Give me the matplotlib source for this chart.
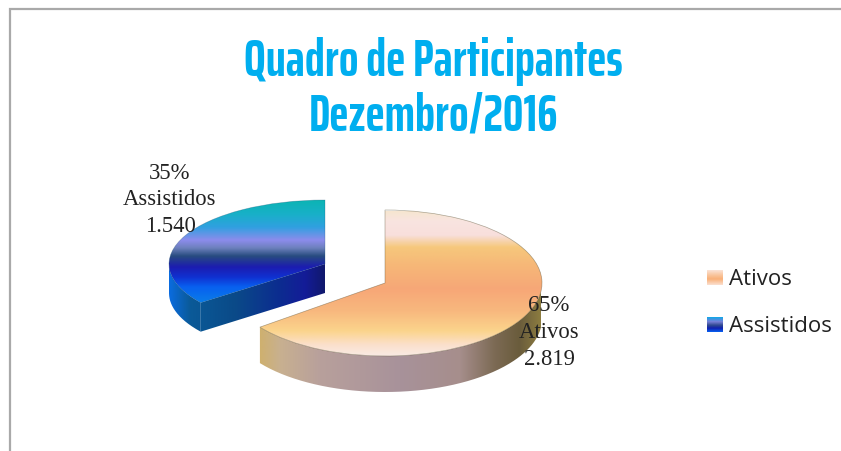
import numpy as np
import matplotlib
matplotlib.use("Agg")
import matplotlib.pyplot as plt
from matplotlib.colors import LinearSegmentedColormap
from matplotlib.path import Path
from matplotlib.transforms import Affine2D
from matplotlib import font_manager as fm

categories = ["Ativos", "Assistidos"]
values = [2819, 1540]
percent_labels = ["65%", "35%"]
value_labels = ["2.819", "1.540"]
title_lines = ["Quadro de Participantes", "Dezembro/2016"]

W, H = 841, 452
fig = plt.figure(figsize=(W / 100, H / 100), dpi=100, facecolor="white")
ax = fig.add_axes([0, 0, 1, 1])

wedges, _ = ax.pie(values, startangle=90, counterclock=False, radius=1, frame=False)
ax.set_aspect("auto")
ax.set_xlim(0, W)
ax.set_ylim(H, 0)
ax.axis("off")

geom = {
    "Ativos": dict(cx=385, cy=284, rx=157, ry=73, depth=36),
    "Assistidos": dict(cx=325, cy=265, rx=156, ry=64, depth=29),
}

top_grad = {
    "Ativos": [(212, "#f6e6d0"), (222, "#f9e4e0"), (236, "#f8dfdc"), (248, "#f6c87c"),
               (265, "#f6b878"), (290, "#f7a777"), (312, "#f8b87e"), (332, "#fbd48c"),
               (346, "#fbe0cc"), (358, "#f9ebe6")],
    "Assistidos": [(201, "#0cb4b4"), (215, "#18b0c8"), (228, "#30a0e0"), (241, "#8c8cec"),
                   (249, "#6c80bc"), (257, "#284c80"), (268, "#1c1cb0"), (278, "#1030d0"),
                   (288, "#0860f0"), (305, "#0a80e8")],
}
side_grad = {
    "Ativos": [(258, "#cfb06c"), (280, "#c8b090"), (320, "#b8a09c"), (400, "#a8929a"),
               (460, "#a68e8c"), (495, "#7c6a54"), (520, "#6a5c3c"), (541, "#8c7c40")],
    "Assistidos": [(169, "#0a6ce0"), (190, "#0a5a98"), (235, "#0a4a88"), (280, "#0c2c90"),
                   (305, "#141c98"), (325, "#10186c")],
}


def ellipse_tf(g):
    return Affine2D().scale(g["rx"], -g["ry"]).translate(g["cx"], g["cy"]) + ax.transData


def fill(path, stops, extent, vertical, transform=None, z=2):
    lo, hi = stops[0][0], stops[-1][0]
    cmap = LinearSegmentedColormap.from_list(
        "g", [((p - lo) / (hi - lo), c) for p, c in stops], N=256)
    ramp = np.linspace(0, 1, 256)
    arr = ramp[:, None] if vertical else ramp[None, :]
    x0, x1, y0, y1 = extent
    im = ax.imshow(arr, cmap=cmap, vmin=0, vmax=1, aspect="auto", zorder=z,
                   extent=(x0, x1, hi, lo) if vertical else (lo, hi, y1, y0),
                   interpolation="bilinear")
    im.set_clip_path(path, (transform or ax.transData))
    return im


for name, w in reversed(list(zip(categories, wedges))):
    g = geom[name]
    t1, t2 = w.theta1, w.theta2
    th = np.radians(np.linspace(t1, t2, 400))
    th = th[np.sin(th) <= 0]
    ex = g["cx"] + g["rx"] * np.cos(th)
    ey = g["cy"] - g["ry"] * np.sin(th)
    d = g["depth"]
    pts = np.r_[np.c_[ex, ey], np.c_[ex, ey + d][::-1]]
    fill(Path(np.r_[pts, pts[:1]]), side_grad[name], (0, W, 0, H), False, z=2)
    end = np.radians(t1 if np.sin(np.radians(t1)) < 0 and np.cos(np.radians(t1)) < 0 else t2)
    tx = g["cx"] + g["rx"] * np.cos(end)
    ty = g["cy"] - g["ry"] * np.sin(end)
    if name == "Assistidos":
        face = np.array([[g["cx"], g["cy"]], [tx, ty], [tx, ty + d],
                         [g["cx"], g["cy"] + d], [g["cx"], g["cy"]]])
        fill(Path(face), side_grad[name][1:], (0, W, 0, H), False, z=3)
    T = ellipse_tf(g)
    w.set_transform(T)
    w.set_facecolor("none")
    w.set_edgecolor((0.3, 0.27, 0.15, 0.45) if name == "Ativos" else (0.1, 0.3, 0.45, 0.35))
    w.set_linewidth(0.5)
    w.set_zorder(5)
    fill(w.get_path(), top_grad[name], (g["cx"] - g["rx"] - 2, g["cx"] + g["rx"] + 2, 0, H),
         True, transform=T, z=4)

ax.set_xlim(0, W)
ax.set_ylim(H, 0)

ax.plot([10, 10, W], [H, 10, 10], color="#a9a9a9", lw=1.6, solid_joinstyle="miter", zorder=1)

names = {f.name for f in fm.fontManager.ttflist}
candidates = ["Saira Extra Condensed", "Saira ExtraCondensed", "Barlow Condensed", "Oswald", "Liberation Sans"]
title_font = next(n for n in candidates if n in names)
for s, x, y in zip(title_lines, (433, 433), (61, 116)):
    ax.text(x, y, s, color="#00aeef", fontsize=37, fontweight="bold", family=title_font,
            ha="center", va="center", zorder=8)

serif = dict(family="Liberation Serif", fontsize=16.3, color="#222222", ha="center",
             va="center", linespacing=1.36, zorder=9)
ax.text(549, 332.5, f"{percent_labels[0]}\n{categories[0]}\n{value_labels[0]}", **serif)
ax.text(170, 200, f"{percent_labels[1]}\n{categories[1]}\n{value_labels[1]}", **serif)

legend_rows = [(categories[0], 278.5, [(0, "#fbe3d6"), (.35, "#f9c49a"), (.6, "#f9b078"), (1, "#fbe0d0")]),
               (categories[1], 325.5, [(0, "#10a8e8"), (.3, "#7a80d8"), (.55, "#304a90"), (.75, "#1020b0"), (1, "#0860f0")])]
for name, yc, stops in legend_rows:
    cmap = LinearSegmentedColormap.from_list("l", stops)
    ax.imshow(np.linspace(0, 1, 64)[:, None], cmap=cmap, aspect="auto", zorder=6,
              extent=(707, 723, yc + 7.5, yc - 7.5))
    ax.text(729, yc + 1.5, name, family="Open Sans", fontsize=16, color="#222222",
            ha="left", va="center", zorder=9)

ax.set_xlim(0, W)
ax.set_ylim(H, 0)
fig.savefig("out.png", dpi=100, facecolor="white")
